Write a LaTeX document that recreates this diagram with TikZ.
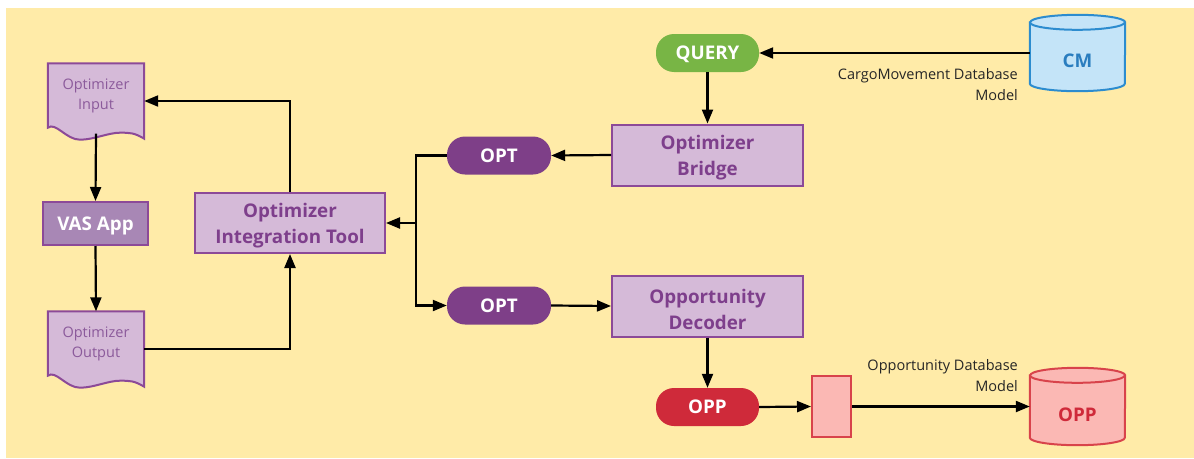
\documentclass[tikz,border=0pt]{standalone}
\usepackage{fontspec}
\setmainfont{Open Sans}
\usetikzlibrary{arrows.meta,calc}
\definecolor{bgy}{HTML}{FFEBA8}
\definecolor{ptext}{HTML}{7E3F8C}
\definecolor{pfill}{HTML}{D5BAD8}
\definecolor{pstroke}{HTML}{8C4A98}
\definecolor{vasfill}{HTML}{A887B5}
\definecolor{doctext}{HTML}{8B5A9B}
\definecolor{qgreen}{HTML}{78B545}
\definecolor{optpill}{HTML}{7E3F88}
\definecolor{oppred}{HTML}{CF2A3A}
\definecolor{pinkfill}{HTML}{FBB8B4}
\definecolor{pinkstroke}{HTML}{D8434B}
\definecolor{bluefill}{HTML}{C4E4F8}
\definecolor{bluestroke}{HTML}{2C8CCF}
\definecolor{bluetext}{HTML}{2A7DBF}
\newcommand\Up{\rule{0pt}{20.5pt}}
\tikzset{
  boldtxt/.style={font=\bfseries\fontsize{18.8}{26}\selectfont, align=center, inner sep=0pt},
  oneline/.style={text height=13.4pt, text depth=0pt},
  procbox/.style={boldtxt, draw=pstroke, fill=pfill, text=ptext, line width=2pt, minimum width=191, minimum height=61},
  vasbox/.style={boldtxt, oneline, draw=pstroke, fill=vasfill, text=white, line width=2pt, minimum width=105, minimum height=43},
  pill/.style={boldtxt, oneline, text=white, minimum width=104, minimum height=38, rounded corners=18pt},
  dochold/.style={inner sep=0pt, minimum width=96, minimum height=64, align=center, text=doctext, font=\fontsize{14.5}{20}\selectfont},
  docshape/.style={draw=pstroke, fill=pfill, line width=2pt},
  dbhold/.style={inner sep=0pt, minimum width=95, minimum height=76},
  dbtxt/.style={font=\bfseries\fontsize{18.8}{22}\selectfont, inner sep=0pt, text height=13.4pt, text depth=0pt},
  lbl/.style={align=right, font=\fontsize{14.5}{21}\selectfont, text=black!85, inner sep=0pt},
  arr/.style={line width=2.2pt, -{Triangle[length=14pt,width=11pt]}}
}
\newcommand\DocShape[1]{%
  \draw[docshape] (#1.north west) -- (#1.north east) -- ($(#1.south east)+(0,11)$)
    .. controls +(-10,-6) and +(10,0) .. ($(#1.south)+(24,5)$)
    .. controls +(-12,0) and +(14,0) .. ($(#1.south)+(-16,12)$)
    .. controls +(-14,0) and +(8,-6) .. (#1.south west) -- cycle;}
\newcommand\DrawCyl[3]{%
  \draw[fill=#2, draw=#3, line width=2pt] ($(#1.north west)+(0,7.5)$) -- ($(#1.south west)+(0,-7.5)$)
    arc[start angle=180,end angle=0,x radius=47.5,y radius=7.5] -- ($(#1.north east)+(0,7.5)$)
    arc[start angle=0,end angle=-180,x radius=47.5,y radius=7.5] -- cycle;
  \draw[draw=#3, line width=2pt] ($(#1.north west)+(0,7.5)$) arc[start angle=180,end angle=0,x radius=47.5,y radius=7.5];}
\begin{document}
\begin{tikzpicture}[x=1pt,y=-1pt]
\useasboundingbox (0,0) rectangle (1194,458);
\fill[white] (0,0) rectangle (1194,458);
\fill[bgy] (6,8) rectangle (1194,458);

% document shapes (drawn first)
\node[dochold] (oinh) at (96,95.5) {};
\DocShape{oinh}
\node[dochold] (oin) at (96,95.5) {Optimizer\\Input};
\node[dochold] (oouth) at (96,343.5) {};
\DocShape{oouth}
\node[dochold] (oout) at (96,343.5) {Optimizer\\Output};

\node[vasbox] (vas) at (95.5,223.5) {VAS App};
\node[procbox, minimum width=190, minimum height=60] (oit) at (290,223) {\Up Optimizer\\Integration Tool};
\node[procbox] (bridge) at (707.5,155) {\Up Optimizer\\Bridge};
\node[procbox] (dec) at (707.5,306) {\Up Opportunity\\Decoder};
\node[pill, fill=qgreen, minimum width=103] (query) at (707.5,53) {QUERY};
\node[pill, fill=optpill] (opt1) at (499,155.5) {OPT};
\node[pill, fill=optpill] (opt2) at (499,305.5) {OPT};
\node[pill, fill=oppred, minimum width=103] (opp) at (707.5,407) {OPP};
\node[draw=pinkstroke, fill=pinkfill, line width=2pt, minimum width=39, minimum height=61, inner sep=0pt] (sr) at (831.5,406.5) {};

\node[dbhold] (cm) at (1077.5,53) {};
\DrawCyl{cm}{bluefill}{bluestroke}
\node[dbtxt, text=bluetext] (cmt) at ($(cm.center)+(0,8)$) {CM};
\node[dbhold, minimum height=77] (oppdb) at (1077.5,406.5) {};
\DrawCyl{oppdb}{pinkfill}{pinkstroke}
\node[dbtxt, text=oppred] (oppdbt) at ($(oppdb.center)+(0,8.5)$) {OPP};

\node[lbl, anchor=east] (cml) at (1018,85) {CargoMovement Database\\Model};
\node[lbl, anchor=east] (oppl) at (1018,376) {Opportunity Database\\Model};

\coordinate (j) at (416,223);

% connectors
\draw[arr] (cm.west) -- (query.east);
\draw[arr] (query.south) -- (bridge.north);
\draw[arr] (bridge.west) -- (opt1.east);
\draw[arr] (opt1.west) -| (j) |- (opt2.west);
\draw[arr] (j) -- (oit.east);
\draw[arr] (opt2.east) -- (dec.west);
\draw[arr] (dec.south) -- (opp.north);
\draw[arr] (opp.east) -- (sr.west);
\draw[arr] (sr.east) -- (oppdb.west);
\draw[arr] (oit.north) |- ($(oin.east)+(0,5.5)$);
\draw[arr] ($(oout.east)+(0,5.5)$) -| (oit.south);
\draw[arr] ($(oin.south)+(0,6)$) -- (vas.north);
\draw[arr] (vas.south) -- (oout.north);
\end{tikzpicture}
\end{document}
